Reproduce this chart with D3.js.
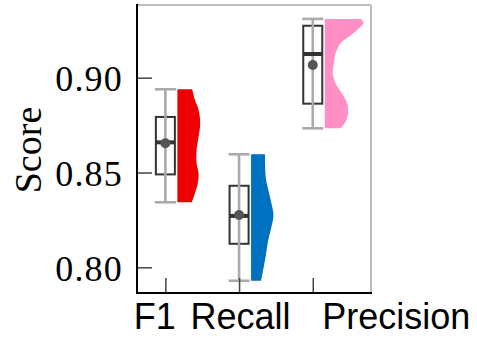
<!DOCTYPE html>
<html>
<head>
<meta charset="utf-8">
<script src="https://cdn.jsdelivr.net/npm/d3@7"></script>
<style>
  html, body { margin: 0; padding: 0; background: #fff; }
  svg { display: block; }
</style>
</head>
<body>
<svg id="chart" width="477" height="339"></svg>
<script>
// ---------------- data ----------------
const categories = ["F1", "Recall", "Precision"];
const whiskerLow  = [0.8343, 0.7929, 0.8733];
const whiskerHigh = [0.8939, 0.8596, 0.9310];
const q1          = [0.8490, 0.8124, 0.8863];
const q3          = [0.8793, 0.8430, 0.9274];
const medians     = [0.8659, 0.8271, 0.9125];
const means       = [0.8654, 0.8276, 0.9067];

// half-violin density profiles (value grid, relative density)
const f1Grid = [0.8939, 0.8882, 0.8830, 0.8759, 0.8689, 0.8619, 0.8549, 0.8496, 0.8443, 0.8390, 0.8343];
const f1Density = [0.37, 0.44, 0.53, 0.57, 0.53, 0.48, 0.48, 0.53, 0.51, 0.44, 0.36];
const recallGrid = [0.8596, 0.8539, 0.8469, 0.8417, 0.8346, 0.8276, 0.8206, 0.8135, 0.8065, 0.7995, 0.7929];
const recallDensity = [0.35, 0.35, 0.37, 0.42, 0.50, 0.56, 0.50, 0.42, 0.37, 0.31, 0.25];
const precisionGrid = [0.9310, 0.9290, 0.9252, 0.9216, 0.9181, 0.9129, 0.9076, 0.9023, 0.8970, 0.8918, 0.8865, 0.8812, 0.8768, 0.8733];
const precisionDensity = [0.90, 0.97, 0.81, 0.60, 0.39, 0.27, 0.23, 0.20, 0.27, 0.43, 0.56, 0.58, 0.52, 0.39];

const yTicks = [0.80, 0.85, 0.90];
const colors = ["#ee0000", "#0070c0", "#ff8fc4"];

// ---------------- layout ----------------
const W = 477, H = 339;
const plot = { left: 137, right: 371, top: 5, bottom: 293 };
const labelShift = [-11, 1, 83];   // x-label horizontal adjustments (px)
const violinGap = 12;
const boxHalf = 9.5;
const capHalf = 10.5;

const svg = d3.select("#chart");

const x = d3.scaleLinear().domain([-0.385, 2.79]).range([plot.left, plot.right]);
const y = d3.scaleLinear().domain([0.78645, 0.93834]).range([plot.bottom, plot.top]);
const wScale = d3.scaleLinear().domain([0, 1]).range([0, 40]);

// frame (top & right gray)
svg.append("line").attr("x1", plot.left).attr("x2", plot.right).attr("y1", plot.top).attr("y2", plot.top)
  .attr("stroke", "#bdbdbd").attr("stroke-width", 2);
svg.append("line").attr("x1", plot.right).attr("x2", plot.right).attr("y1", plot.top).attr("y2", plot.bottom)
  .attr("stroke", "#bdbdbd").attr("stroke-width", 2);

// violins
const grids = [f1Grid, recallGrid, precisionGrid];
const dens = [f1Density, recallDensity, precisionDensity];
categories.forEach((c, i) => {
  const pts = grids[i].map((v, k) => ({ v, d: dens[i][k] }));
  const base = x(i) + violinGap;
  const area = d3.area()
    .y(p => y(p.v))
    .x0(base)
    .x1(p => base + wScale(p.d))
    .curve(d3.curveCatmullRom);
  svg.append("path").attr("d", area(pts)).attr("fill", colors[i]);
});

// boxes
categories.forEach((c, i) => {
  const cx = x(i);
  const g = svg.append("g");
  g.append("rect")
    .attr("x", cx - boxHalf).attr("y", y(q3[i]))
    .attr("width", boxHalf * 2).attr("height", y(q1[i]) - y(q3[i]))
    .attr("fill", "none").attr("stroke", "#333").attr("stroke-width", 2);
  g.append("line").attr("x1", cx).attr("x2", cx)
    .attr("y1", y(whiskerHigh[i])).attr("y2", y(whiskerLow[i]))
    .attr("stroke", "#aaaaaa").attr("stroke-width", 2.6);
  [whiskerHigh[i], whiskerLow[i]].forEach(v => {
    g.append("line").attr("x1", cx - capHalf).attr("x2", cx + capHalf)
      .attr("y1", y(v)).attr("y2", y(v))
      .attr("stroke", "#aaaaaa").attr("stroke-width", 2.6);
  });
  g.append("line").attr("x1", cx - boxHalf).attr("x2", cx + boxHalf)
    .attr("y1", y(medians[i])).attr("y2", y(medians[i]))
    .attr("stroke", "#333").attr("stroke-width", 4);
  g.append("circle").attr("cx", cx).attr("cy", y(means[i])).attr("r", 5)
    .attr("fill", "#555");
});

// y axis
const yAxis = d3.axisLeft(y).tickValues(yTicks).tickSize(-15).tickPadding(14)
  .tickFormat(d3.format(".2f"));
const gy = svg.append("g").attr("transform", `translate(${plot.left},0)`).call(yAxis);
gy.select(".domain").remove();
gy.selectAll(".tick line").attr("stroke", "#444").attr("stroke-width", 1.5);
gy.selectAll(".tick text")
  .attr("font-family", "'Liberation Serif', 'Times New Roman', serif")
  .attr("font-size", 36).attr("fill", "#000")
  .attr("letter-spacing", 1.2)
  .attr("dy", "0.36em");

// x axis
const xAxis = d3.axisBottom(x).tickValues([0, 1, 2]).tickSize(-15).tickPadding(10)
  .tickFormat(i => categories[i]);
const gx = svg.append("g").attr("transform", `translate(0,${plot.bottom})`).call(xAxis);
gx.select(".domain").remove();
gx.selectAll(".tick line").attr("stroke", "#444").attr("stroke-width", 1.5);
gx.selectAll(".tick text")
  .attr("font-family", "'Liberation Sans', Arial, sans-serif")
  .attr("font-size", 36).attr("fill", "#000")
  .attr("dx", (d, i) => labelShift[i]);

// axis spines
svg.append("line").attr("x1", plot.left).attr("x2", plot.left).attr("y1", plot.top - 1).attr("y2", plot.bottom + 1)
  .attr("stroke", "#000").attr("stroke-width", 2);
svg.append("line").attr("x1", plot.left - 1).attr("x2", plot.right + 1).attr("y1", plot.bottom).attr("y2", plot.bottom)
  .attr("stroke", "#000").attr("stroke-width", 2);

// y label
svg.append("text")
  .attr("transform", `translate(41,150) rotate(-90)`)
  .attr("text-anchor", "middle")
  .attr("font-family", "'Liberation Serif', 'Times New Roman', serif")
  .attr("font-size", 38).attr("fill", "#000")
  .text("Score");
</script>
</body>
</html>
